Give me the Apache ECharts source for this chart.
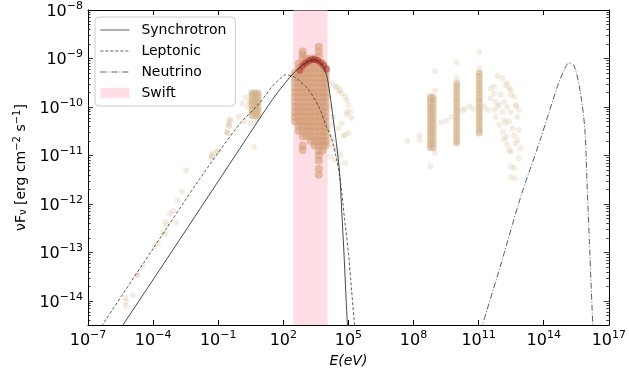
<!DOCTYPE html>
<html>
<head>
<meta charset="utf-8">
<script src="https://cdn.jsdelivr.net/npm/echarts@6/dist/echarts.min.js"></script>
<style>
  html, body { margin: 0; padding: 0; background: #fff; }
  #chart { width: 629px; height: 374px; }
</style>
</head>
<body>
<div id="chart"></div>
<script>
// axis ranges and tick labels
const xMin = 1e-7, xMax = 1e17
const yMin = 3.2e-15, yMax = 1e-8
const xTicks = [1e-7, 1e-4, 1e-1, 1e2, 1e5, 1e8, 1e11, 1e14, 1e17]
const yTicks = [1e-14, 1e-13, 1e-12, 1e-11, 1e-10, 1e-9, 1e-8]
const swiftBand = [285, 1.1e4] // Swift XRT band

// model curves (E in eV, nuFnu in erg cm^-2 s^-1)
const synE = [2.5e-6, 1e-3, 0.316, 31.6, 100, 251, 631, 1260, 2240, 3980, 7080, 1e4, 1.41e4, 2e4, 2.8e4, 4e4, 5e4, 6.3e4, 7.9e4, 9.3e4]
const synF = [2.3e-15, 1.3e-13, 6.4e-12, 1.43e-10, 2.8e-10, 4.6e-10, 6.8e-10, 8.5e-10, 9.3e-10, 8.9e-10, 6.6e-10, 4.5e-10, 1.8e-10, 5.6e-11, 1.8e-11, 4e-12, 6.3e-13, 8.9e-14, 1e-14, 2.5e-15]
const lepE = [3.16e-7, 1e-4, 1.35e-2, 0.91, 7.6, 29.5, 61.7, 129, 245, 513, 1480, 4270, 8510, 1.74e4, 2.9e4, 4.2e4, 6.6e4, 1e5, 1.41e5, 2e5]
const lepF = [2.5e-15, 1.2e-13, 3.2e-12, 4.3e-11, 1.17e-10, 2.6e-10, 3.6e-10, 4.6e-10, 4.4e-10, 3.6e-10, 2.24e-10, 1.02e-10, 4.6e-11, 2.1e-11, 8.1e-12, 3.1e-12, 5e-13, 1e-13, 1.6e-14, 2.5e-15]
const nuE = [1.26e11, 1e12, 8.7e12, 6.9e13, 4.2e14, 8.7e14, 1.48e15, 2.5e15, 4.7e15, 7.9e15, 9.8e15, 1.26e16, 1.86e16]
const nuF = [2.5e-15, 5.2e-14, 1.4e-12, 2.1e-11, 2.6e-10, 5.75e-10, 8.1e-10, 7.1e-10, 2.24e-10, 3.4e-11, 3.1e-12, 1.8e-13, 2.5e-15]

// archival data points [E, nuFnu]
const tanPoints = [
  [5.5e-6, 7.9e-15], [5.5e-6, 9.8e-15], [5.5e-6, 1.15e-14], [1.15e-5, 1.32e-14], [1.8e-5, 3.5e-14], [1.9e-5, 3.4e-14], [3.2e-5, 5.2e-14],
  [1.17e-4, 1.35e-13], [1.66e-4, 1.58e-13], [2.8e-4, 2.6e-13], [3.7e-4, 2.4e-13], [3.9e-4, 3.7e-13], [3.7e-4, 4.3e-13],
  [5.9e-4, 6.2e-13], [8.3e-4, 7.2e-13], [1.15e-3, 4.1e-13], [1.32e-3, 1.2e-12], [2.1e-3, 1.78e-12], [3.3e-3, 4.9e-12],
  [0.047, 8.7e-12], [0.051, 9.8e-12], [0.051, 9.8e-12], [0.055, 1.12e-11], [0.093, 1.23e-11], [0.093, 1.23e-11],
  [0.24, 3.1e-11], [0.27, 2.9e-11], [0.27, 2.9e-11], [0.30, 4.6e-11], [0.32, 4.1e-11], [0.32, 4.1e-11], [0.35, 5.4e-11], [0.35, 5.4e-11],
  [0.91, 6.3e-11], [1.66, 5.0e-11], [3.2, 4.5e-11], [5.6, 5.0e-11], [4.5, 1.5e-11],
  [1.29, 1.2e-10], [1.86, 1.58e-10], [2.6, 1.29e-10], [2.2, 1.02e-10],
  [1.74e4, 3.1e-10], [2.45e4, 2.6e-10], [2.9e4, 2.6e-10], [3.5e4, 2.1e-10], [4.2e4, 2.24e-10], [4.9e4, 1.9e-10], [7.1e4, 1.62e-10],
  [8.3e4, 1.38e-10], [1e5, 1.1e-10], [1.2e5, 7.9e-11], [8.3e4, 7.9e-11], [1.41e5, 5.9e-11], [8.3e4, 6.9e-11], [4.9e4, 4.6e-11],
  [3.5e4, 3.6e-11], [5.9e4, 2.6e-11], [7.1e4, 2.6e-11], [1e5, 2.9e-11], [1.74e4, 2.1e-11], [2.0e4, 1.51e-11], [2.9e4, 1.29e-11],
  [4.2e4, 1.02e-11], [7.1e4, 6.9e-12], [1.2e4, 1.62e-10], [1.45e4, 1.02e-10], [2.0e4, 6.3e-11], [1.74e4, 4.3e-11], [1.2e4, 3.4e-11],
  [1.2e4, 1.78e-11], [1.45e4, 9.5e-12], [2.45e4, 8.1e-12], [1.45e4, 2.45e-11],
  [5.0e7, 2.0e-11], [1.9e8, 2.6e-11], [1.9e8, 2.1e-11], [1.86e9, 4.8e-11], [3.2e9, 5.2e-11], [5.4e9, 6.2e-11],
  [1.86e10, 8.3e-11], [3.7e10, 1.05e-10], [5.4e10, 9.3e-11], [2.2e10, 9.3e-11],
  [9.7e8, 5.5e-10], [9.7e8, 2.2e-10], [9.7e8, 1.12e-11], [5.9e8, 6.0e-12],
  [9.8e9, 8.3e-10], [9.8e9, 3.9e-10], [1.07e11, 1.35e-9], [1.07e11, 6.3e-10],
  [7.4e11, 4.4e-10], [1.26e12, 3.9e-10], [2.0e12, 3.1e-10], [1.8e12, 2.8e-10], [3.6e11, 2.45e-10], [5.2e11, 2.6e-10],
  [2.6e12, 2.45e-10], [3.0e12, 2.24e-10], [5.2e11, 1.9e-10], [1.05e12, 1.78e-10], [3.0e12, 1.78e-10], [4.4e12, 1.62e-10],
  [3.6e11, 1.51e-10], [6.2e11, 1.29e-10], [1.5e12, 1.29e-10], [8.9e11, 1.1e-10], [2.1e12, 1.02e-10], [5.1e12, 1.1e-10],
  [5.5e12, 1.05e-10], [2.6e11, 8.7e-11], [1.8e11, 1.02e-10], [5.2e11, 8.7e-11], [1.26e12, 7.9e-11], [3.0e12, 7.9e-11],
  [7.2e12, 8.7e-11], [6.2e12, 6.2e-11], [6.2e11, 6.3e-11], [1.5e12, 5.4e-11], [2.6e12, 5.0e-11], [8.9e11, 4.3e-11],
  [3.6e12, 3.6e-11], [7.2e12, 3.4e-11], [1.26e12, 3.1e-11], [4.4e12, 2.6e-11], [1.5e12, 2.1e-11], [6.2e12, 2.1e-11],
  [2.1e12, 1.66e-11], [8.7e12, 1.41e-11], [2.6e12, 1.29e-11], [7.2e12, 8.7e-12], [3.0e12, 5.9e-12], [4.4e12, 5.5e-12],
  [3.0e12, 3.6e-12], [4.6e12, 3.4e-12], [7.4e11, 1.02e-10], [1.8e12, 4.6e-11], [5.1e12, 1.78e-11], [3.0e12, 1.2e-11], [1.8e12, 2.45e-11]
]

// densely sampled columns: several energies sharing one flux range
const denseCols = [
  { E: [3.6, 5.0, 6.8], F: [1.95e-10, 1.7e-10, 1.45e-10, 1.25e-10, 1.07e-10, 9.1e-11, 7.8e-11, 6.6e-11] },
  { E: [6.0e8, 8.0e8], F: [1.6e-10, 1.4e-10, 1.2e-10, 1.0e-10, 8.7e-11, 7.4e-11, 6.3e-11, 5.4e-11, 4.6e-11, 3.9e-11, 3.3e-11, 2.8e-11, 2.4e-11, 2.0e-11, 1.7e-11, 1.45e-11] },
  { E: [9.8e9], F: [3.1e-10, 2.65e-10, 2.25e-10, 1.9e-10, 1.6e-10, 1.4e-10, 1.2e-10, 1.0e-10, 8.7e-11, 7.4e-11, 6.3e-11, 5.4e-11, 4.6e-11, 3.9e-11, 3.3e-11, 2.8e-11, 2.4e-11, 2.05e-11, 1.8e-11] },
  { E: [1.07e11], F: [5.0e-10, 4.3e-10, 3.6e-10, 3.1e-10, 2.65e-10, 2.25e-10, 1.9e-10, 1.6e-10, 1.4e-10, 1.2e-10, 1.0e-10, 8.7e-11, 7.4e-11, 6.3e-11, 5.4e-11, 4.6e-11, 3.9e-11, 3.3e-11, 2.9e-11] }
]

// Swift XRT points, one flux list per energy
const swiftE = [340, 510, 780, 1200, 1800, 2750, 4300, 6500, 8900]
const swiftF = [
  [5.0e-10, 4.0e-10, 3.2e-10, 2.5e-10, 2.0e-10, 1.6e-10, 1.26e-10, 1.0e-10, 7.9e-11, 6.3e-11, 5.0e-11],
  [7.9e-10, 6.3e-10, 5.0e-10, 4.0e-10, 3.2e-10, 2.5e-10, 2.0e-10, 1.6e-10, 1.26e-10, 1.0e-10, 7.9e-11, 6.3e-11, 5.0e-11, 4.0e-11, 3.2e-11],
  [1.4e-9, 1.2e-9, 1.0e-9, 7.9e-10, 6.3e-10, 5.0e-10, 4.0e-10, 3.2e-10, 2.5e-10, 2.0e-10, 1.6e-10, 1.26e-10, 1.0e-10, 7.9e-11, 6.3e-11, 5.0e-11, 4.0e-11, 3.2e-11, 2.5e-11, 1.6e-11, 1.3e-11],
  [1.0e-9, 7.9e-10, 6.3e-10, 5.0e-10, 4.0e-10, 3.2e-10, 2.5e-10, 2.0e-10, 1.6e-10, 1.26e-10, 1.0e-10, 7.9e-11, 6.3e-11, 5.0e-11, 4.0e-11, 3.2e-11, 2.5e-11],
  [1.0e-9, 7.9e-10, 6.3e-10, 5.0e-10, 4.0e-10, 3.2e-10, 2.5e-10, 2.0e-10, 1.6e-10, 1.26e-10, 1.0e-10, 7.9e-11, 6.3e-11, 5.0e-11, 4.0e-11, 3.2e-11, 2.5e-11, 2.0e-11],
  [1.0e-9, 7.9e-10, 6.3e-10, 5.0e-10, 4.0e-10, 3.2e-10, 2.5e-10, 2.0e-10, 1.6e-10, 1.26e-10, 1.0e-10, 7.9e-11, 6.3e-11, 5.0e-11, 4.0e-11, 3.2e-11, 2.5e-11, 2.0e-11, 1.6e-11],
  [1.75e-9, 1.4e-9, 1.1e-9, 7.9e-10, 6.3e-10, 5.0e-10, 4.0e-10, 3.2e-10, 2.5e-10, 2.0e-10, 1.6e-10, 1.26e-10, 1.0e-10, 7.9e-11, 6.3e-11, 5.0e-11, 4.0e-11, 3.2e-11, 2.5e-11, 2.0e-11, 1.6e-11, 1.26e-11, 1.0e-11, 7.9e-12, 5.3e-12, 4.0e-12],
  [7.9e-10, 6.3e-10, 5.0e-10, 4.0e-10, 3.2e-10, 2.5e-10, 2.0e-10, 1.6e-10, 1.26e-10, 1.0e-10, 7.9e-11, 6.3e-11, 5.0e-11, 4.0e-11, 3.2e-11, 2.5e-11, 2.0e-11, 1.6e-11, 1.26e-11],
  [6.3e-10, 5.0e-10, 4.0e-10, 3.2e-10, 2.5e-10, 2.0e-10, 1.6e-10, 1.26e-10, 1.0e-10, 7.9e-11, 6.3e-11, 5.0e-11, 4.0e-11, 3.2e-11, 2.5e-11, 2.0e-11, 1.6e-11]
]

// flaring state (red)
const redE = [575, 776, 1070, 1480, 2040, 2750, 3800, 5250, 7240, 9800]
const redF = [5.75e-10, 7.1e-10, 8.1e-10, 8.9e-10, 9.5e-10, 9.5e-10, 9.1e-10, 8.3e-10, 7.2e-10, 6.0e-10]

const font = 'DejaVu Sans'
const swiftColor = 'rgba(255,192,203,0.5)'

const zip = (a, b) => a.map((v, i) => [v, b[i]])
const densePoints = []
denseCols.forEach(c => c.E.forEach(e => c.F.forEach(f => densePoints.push([e, f]))))
const swiftPoints = []
swiftE.forEach((e, i) => swiftF[i].forEach(f => swiftPoints.push([e, f])))

// minor ticks of the y axis (2..9 x 10^n)
const yMinor = []
for (let p = -15; p < -8; p++) {
  for (let m = 2; m <= 9; m++) {
    const v = m * Math.pow(10, p)
    if (v > yMin && v < yMax) yMinor.push(v)
  }
}

function pow10Label (v) {
  const e = Math.round(Math.log10(v))
  return '{b|10}{s|' + (e < 0 ? '\u2212' : '') + Math.abs(e) + '}'
}
const labelRich = {
  b: { fontSize: 16, fontFamily: font, color: '#000', verticalAlign: 'bottom' },
  s: { fontSize: 11, fontFamily: font, color: '#000', verticalAlign: 'top', padding: [0, 0, 8, 0] }
}

function xAx (pos, showLabel) {
  return {
    type: 'log', position: pos, min: xMin, max: xMax,
    axisLine: { show: true, onZero: false, lineStyle: { color: '#000', width: 1 } },
    axisTick: { show: true, inside: true, length: 5, customValues: xTicks, lineStyle: { color: '#000' } },
    axisLabel: { show: showLabel, customValues: xTicks, formatter: pow10Label, rich: labelRich, margin: 5 },
    splitLine: { show: false }
  }
}
function yAx (pos, showLabel, ticks, len, line) {
  return {
    type: 'log', position: pos, min: yMin, max: yMax,
    axisLine: { show: line, onZero: false, lineStyle: { color: '#000', width: 1 } },
    axisTick: { show: true, inside: true, length: len, customValues: ticks, lineStyle: { color: '#000', width: 0.8 } },
    axisLabel: { show: showLabel, customValues: ticks, formatter: pow10Label, rich: labelRich, margin: 5 },
    splitLine: { show: false }
  }
}

const chart = echarts.init(document.getElementById('chart'))

const xBottom = xAx('bottom', true)
xBottom.name = 'E(eV)'
xBottom.nameLocation = 'middle'
xBottom.nameGap = 24
xBottom.nameTextStyle = { fontFamily: font, fontSize: 14, fontStyle: 'italic', color: '#000' }

const yLeft = yAx('left', true, yTicks, 5, true)
yLeft.name = '{n|\u03bdF}{sub|\u03bd}{n| [erg cm}{sup|\u22122}{n| s}{sup|\u22121}{n|]}'
yLeft.nameLocation = 'middle'
yLeft.nameGap = 48
yLeft.nameTextStyle = {
  rich: {
    n: { fontFamily: font, fontSize: 14, color: '#000', verticalAlign: 'bottom' },
    sub: { fontFamily: font, fontSize: 10, color: '#000', verticalAlign: 'bottom' },
    sup: { fontFamily: font, fontSize: 10, color: '#000', verticalAlign: 'top', padding: [0, 0, 6, 0] }
  }
}

// legend entries for the curves show only the line sample
const lineEntry = name => ({ name: name, itemStyle: { opacity: 0 }, lineStyle: { width: 0.8 } })

chart.setOption({
  animation: false,
  grid: { left: 88, right: 17, top: 10, bottom: 49, containLabel: false },
  legend: {
    orient: 'vertical', left: 95, top: 17,
    padding: [6, 9, 6, 5], itemGap: 7, itemWidth: 29, itemHeight: 10,
    backgroundColor: 'rgba(255,255,255,0.8)', borderColor: '#ccc', borderWidth: 1, borderRadius: 4,
    textStyle: { fontFamily: font, fontSize: 14, color: '#000', padding: [0, 0, 0, 7] },
    data: [
      lineEntry('Synchrotron'),
      lineEntry('Leptonic'),
      lineEntry('Neutrino'),
      { name: 'Swift', icon: 'rect', itemStyle: { color: swiftColor } }
    ]
  },
  xAxis: [xBottom, xAx('top', false)],
  yAxis: [
    yLeft,
    yAx('right', false, yTicks, 5, true),
    yAx('left', false, yMinor, 2.5, false),
    yAx('right', false, yMinor, 2.5, false)
  ],
  series: [
    {
      name: 'Swift', type: 'line', data: [], color: swiftColor, z: 1,
      markArea: { silent: true, itemStyle: { color: swiftColor }, data: [[{ xAxis: swiftBand[0] }, { xAxis: swiftBand[1] }]] }
    },
    { type: 'scatter', data: tanPoints, symbolSize: 6, itemStyle: { color: 'rgba(210,180,140,0.3)' }, silent: true, z: 2 },
    { type: 'scatter', data: densePoints, symbolSize: 7, itemStyle: { color: 'rgba(210,178,136,0.75)' }, silent: true, z: 2 },
    { type: 'scatter', data: swiftPoints, symbolSize: 8, itemStyle: { color: 'rgba(212,156,118,0.75)' }, silent: true, z: 3 },
    { type: 'scatter', data: zip(redE, redF), symbolSize: 7, itemStyle: { color: 'rgba(165,20,20,0.55)' }, silent: true, z: 4 },
    {
      name: 'Synchrotron', type: 'line', data: zip(synE, synF), symbol: 'none', smooth: 0.3, z: 5,
      color: '#333', lineStyle: { color: '#333', width: 0.9, type: 'solid' }
    },
    {
      name: 'Leptonic', type: 'line', data: zip(lepE, lepF), symbol: 'none', smooth: 0.3, z: 5,
      color: '#333', lineStyle: { color: '#333', width: 0.8, type: [3, 2] }
    },
    {
      name: 'Neutrino', type: 'line', data: zip(nuE, nuF), symbol: 'none', smooth: 0.3, z: 5,
      color: '#333', lineStyle: { color: '#333', width: 0.8, type: [6, 2, 1, 2] }
    }
  ]
})
</script>
</body>
</html>
